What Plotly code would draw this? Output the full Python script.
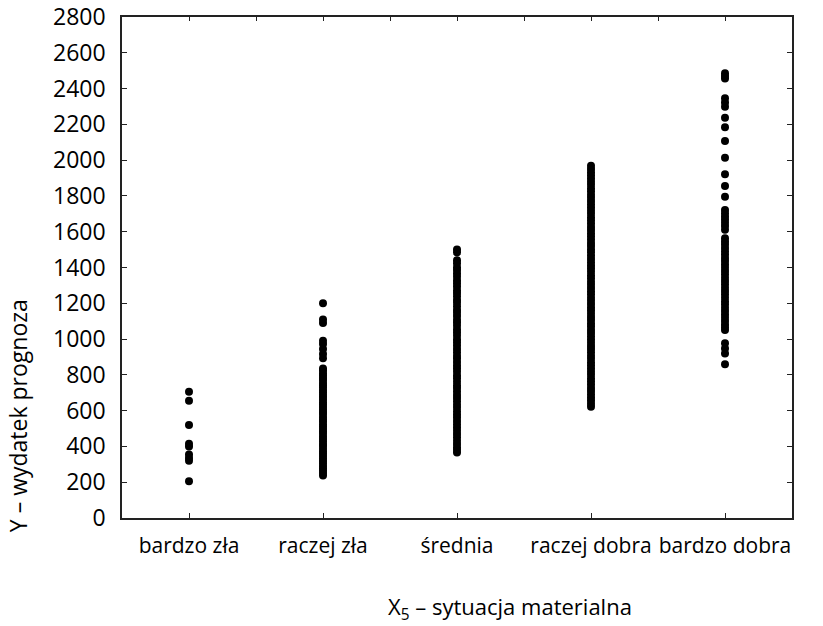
import plotly.graph_objects as go

# Categories of material situation (X5)
categories = ["bardzo zła", "raczej zła", "średnia", "raczej dobra", "bardzo dobra"]

# Forecast expenditure (Y) for each category
y_bardzo_zla = [705, 655, 520, 415, 400, 355, 335, 320, 205]

y_raczej_zla = [1200, 1110, 1090, 990, 972, 945, 916, 893,
                836, 824, 809, 797, 783, 771, 755, 742, 731, 716, 703, 689,
                676, 662, 647, 635, 621, 606, 593, 581, 565, 552, 539, 524,
                512, 498, 483, 471, 455, 442, 429, 414, 402, 387, 373, 361,
                346, 332, 319, 306, 291, 278, 265, 252, 238]

y_srednia = [1500, 1484,
             1441, 1424, 1402, 1386, 1367, 1349, 1328, 1312, 1294, 1273,
             1257, 1239, 1218, 1203, 1184, 1163, 1147, 1129, 1108, 1092,
             1074, 1053, 1037, 1019, 998, 982, 964, 944, 927, 907, 891,
             872, 852, 836, 817, 797, 781, 762, 742, 726, 707, 687, 671,
             652, 633, 616, 597, 578, 561, 542, 524, 506, 487, 469, 451,
             432, 414, 396, 381, 366]

y_raczej_dobra = [1968, 1951, 1933, 1916, 1897, 1879, 1862, 1843, 1826,
                  1807, 1790, 1771, 1754, 1736, 1717, 1700, 1681, 1664,
                  1646, 1627, 1610, 1591, 1574, 1556, 1537, 1520, 1501,
                  1484, 1466, 1447, 1430, 1411, 1394, 1376, 1357, 1340,
                  1321, 1304, 1286, 1267, 1250, 1231, 1214, 1196, 1177,
                  1160, 1141, 1124, 1106, 1087, 1070, 1051, 1034, 1016,
                  997, 980, 961, 944, 926, 907, 890, 871, 854, 836, 817,
                  800, 781, 764, 746, 727, 710, 691, 674, 656, 638, 622]

y_bardzo_dobra = [2485, 2470, 2456, 2346, 2322, 2299, 2237, 2184, 2107,
                  2014, 1921, 1856, 1796,
                  1721, 1703, 1685, 1668, 1650, 1632, 1611,
                  1563, 1546, 1528, 1509, 1491, 1472, 1453, 1436, 1417,
                  1398, 1380, 1362, 1343, 1324, 1306, 1287, 1269, 1250,
                  1231, 1212, 1194, 1175, 1157, 1138, 1119, 1101, 1082,
                  1066, 1051,
                  976, 948, 920, 859]

columns = [y_bardzo_zla, y_raczej_zla, y_srednia, y_raczej_dobra, y_bardzo_dobra]

xs, ys = [], []
for cat, vals in zip(categories, columns):
    xs.extend([cat] * len(vals))
    ys.extend(vals)

fig = go.Figure()
fig.add_trace(go.Scatter(
    x=xs, y=ys, mode="markers",
    marker=dict(size=8, color="black", line=dict(width=0)),
    showlegend=False, hoverinfo="x+y",
))
# empty trace so the top frame axis is created
fig.add_trace(go.Scatter(x=[], y=[], xaxis="x2", yaxis="y", showlegend=False))

font_family = "Open Sans"
axis_color = "#222222"

fig.update_layout(
    width=823, height=626,
    margin=dict(l=122, r=31, t=17, b=108, autoexpand=False),
    paper_bgcolor="white", plot_bgcolor="white",
    font=dict(family=font_family, size=22, color="black"),
    xaxis=dict(
        type="category", categoryorder="array", categoryarray=categories,
        range=[-0.5, 4.5], automargin=False,
        showgrid=False, zeroline=False,
        showline=True, linecolor=axis_color, linewidth=1.5,
        ticks="inside", ticklen=5, tickcolor=axis_color, tickwidth=1,
        tickfont=dict(size=21), tickangle=0,
        ticklabelstandoff=8,
    ),
    xaxis2=dict(
        overlaying="x", side="top", range=[-0.5, 4.5], automargin=False,
        tickmode="linear", tick0=-0.5, dtick=0.5,
        showgrid=False, zeroline=False, showticklabels=False,
        showline=True, linecolor=axis_color, linewidth=1.5,
        ticks="inside", ticklen=4, tickcolor=axis_color, tickwidth=1,
    ),
    yaxis=dict(
        range=[0, 2800], tickmode="linear", tick0=0, dtick=200,
        automargin=False,
        showgrid=False, zeroline=False,
        showline=True, linecolor=axis_color, linewidth=1.5, mirror="ticks",
        ticks="inside", ticklen=5, tickcolor=axis_color, tickwidth=1,
        tickfont=dict(size=23),
        ticklabelstandoff=10,
    ),
    annotations=[
        dict(text="Y – wydatek prognoza", textangle=-90,
             xref="paper", yref="paper", x=-0.155, y=0.2036,
             xanchor="center", yanchor="middle", showarrow=False,
             font=dict(size=23, family=font_family)),
        dict(text="X<sub>5</sub> – sytuacja materialna",
             xref="paper", yref="paper", x=0.394, y=-0.18,
             xanchor="left", yanchor="middle", showarrow=False,
             font=dict(size=22, family=font_family)),
    ],
)

fig.write_html("out.html")
